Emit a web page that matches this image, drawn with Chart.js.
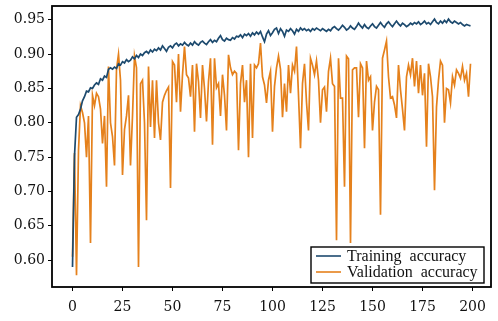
<!DOCTYPE html>
<html>
<head>
<meta charset="utf-8">
<script src="https://cdn.jsdelivr.net/npm/chart.js@4.4.1/dist/chart.umd.min.js"></script>
<style>
  html, body { margin: 0; padding: 0; background: #fff; }
  #wrap { width: 498px; height: 321px; }
</style>
</head>
<body>
<div id="wrap"><canvas id="acc-chart" width="498" height="321"></canvas></div>
<script>
// Accuracy per epoch
var trainAcc = [
  0.590, 0.752, 0.808, 0.812, 0.820, 0.832, 0.838, 0.846, 0.845, 0.851,
  0.850, 0.855, 0.858, 0.856, 0.864, 0.862, 0.868, 0.866, 0.878, 0.880,
  0.878, 0.881, 0.879, 0.886, 0.884, 0.889, 0.887, 0.892, 0.889, 0.891,
  0.896, 0.893, 0.898, 0.895, 0.900, 0.898, 0.902, 0.904, 0.901, 0.906,
  0.903, 0.907, 0.905, 0.909, 0.906, 0.912, 0.908, 0.904, 0.910, 0.912,
  0.909, 0.914, 0.916, 0.912, 0.915, 0.913, 0.917, 0.914, 0.912, 0.916,
  0.913, 0.918, 0.915, 0.913, 0.917, 0.919, 0.916, 0.914, 0.918, 0.921,
  0.917, 0.920, 0.918, 0.923, 0.927, 0.921, 0.919, 0.923, 0.921, 0.920,
  0.924, 0.922, 0.926, 0.925, 0.928, 0.924, 0.929, 0.927, 0.930, 0.926,
  0.931, 0.928, 0.932, 0.929, 0.933, 0.925, 0.918, 0.929, 0.934, 0.927,
  0.931, 0.936, 0.938, 0.930, 0.937, 0.933, 0.926, 0.935, 0.933, 0.937,
  0.934, 0.929, 0.936, 0.933, 0.938, 0.935, 0.937, 0.934, 0.936, 0.933,
  0.937, 0.935, 0.938, 0.936, 0.934, 0.937, 0.935, 0.933, 0.936, 0.934,
  0.938, 0.940, 0.937, 0.935, 0.938, 0.942, 0.939, 0.935, 0.937, 0.941,
  0.938, 0.936, 0.940, 0.945, 0.941, 0.938, 0.943, 0.939, 0.937, 0.941,
  0.944, 0.940, 0.938, 0.942, 0.946, 0.942, 0.939, 0.944, 0.947, 0.943,
  0.940, 0.944, 0.948, 0.944, 0.941, 0.945, 0.943, 0.940, 0.942, 0.945,
  0.943, 0.946, 0.944, 0.947, 0.943, 0.945, 0.948, 0.944, 0.946, 0.943,
  0.947, 0.951, 0.946, 0.944, 0.948, 0.945, 0.949, 0.946, 0.951, 0.947,
  0.945, 0.948, 0.946, 0.944, 0.946, 0.943, 0.941, 0.943, 0.942, 0.941
];
var valAcc = [
  0.605, 0.756, 0.578, 0.760, 0.825, 0.815, 0.800, 0.750, 0.810, 0.625,
  0.840, 0.825, 0.843, 0.838, 0.820, 0.770, 0.810, 0.707, 0.882, 0.800,
  0.780, 0.738, 0.878, 0.900, 0.862, 0.724, 0.790, 0.810, 0.840, 0.738,
  0.810, 0.897, 0.880, 0.590, 0.857, 0.862, 0.800, 0.658, 0.882, 0.794,
  0.862, 0.778, 0.862, 0.800, 0.775, 0.830, 0.840, 0.847, 0.852, 0.705,
  0.889, 0.884, 0.830, 0.900, 0.816, 0.870, 0.911, 0.870, 0.865, 0.838,
  0.884, 0.787, 0.886, 0.860, 0.807, 0.884, 0.850, 0.802, 0.860, 0.894,
  0.768, 0.894, 0.851, 0.857, 0.810, 0.870, 0.840, 0.789, 0.899, 0.880,
  0.870, 0.875, 0.872, 0.760, 0.857, 0.884, 0.830, 0.862, 0.750, 0.886,
  0.778, 0.884, 0.880, 0.886, 0.916, 0.867, 0.855, 0.829, 0.862, 0.875,
  0.787, 0.853, 0.880, 0.897, 0.878, 0.808, 0.857, 0.816, 0.884, 0.843,
  0.884, 0.875, 0.911, 0.840, 0.763, 0.857, 0.886, 0.830, 0.789, 0.894,
  0.884, 0.870, 0.890, 0.862, 0.800, 0.848, 0.852, 0.816, 0.875, 0.894,
  0.857, 0.853, 0.629, 0.894, 0.836, 0.836, 0.707, 0.897, 0.893, 0.625,
  0.877, 0.880, 0.880, 0.808, 0.886, 0.880, 0.763, 0.890, 0.862, 0.867,
  0.789, 0.830, 0.853, 0.848, 0.666, 0.894, 0.906, 0.919, 0.867, 0.836,
  0.838, 0.826, 0.807, 0.884, 0.848, 0.820, 0.789, 0.867, 0.884, 0.870,
  0.894, 0.853, 0.890, 0.843, 0.884, 0.840, 0.872, 0.765, 0.886, 0.867,
  0.838, 0.702, 0.823, 0.862, 0.890, 0.884, 0.800, 0.850, 0.848, 0.829,
  0.867, 0.855, 0.877, 0.872, 0.865, 0.882, 0.862, 0.872, 0.838, 0.886
];
var xTicks = [0, 25, 50, 75, 100, 125, 150, 175, 200];
var yTicks = [0.60, 0.65, 0.70, 0.75, 0.80, 0.85, 0.90, 0.95];
var seriesNames = ["Training  accuracy", "Validation  accuracy"];
var seriesColors = ["#1d4a6e", "#e5811c"];

var TICK_FONT = "'DejaVu Serif', 'Liberation Serif', serif";
var LEGEND_FONT = "'Liberation Serif', 'DejaVu Serif', serif";

function toPoints(arr) {
    return arr.map(function (v, i) { return { x: i, y: v }; });
}

// black frame around the plot plus the legend box in the lower right
var framePlugin = {
    id: 'frameAndLegend',
    afterDatasetsDraw: function (chart) {
        var ctx = chart.ctx;
        var a = chart.chartArea;
        ctx.save();
        ctx.strokeStyle = '#000';
        ctx.lineWidth = 1.8;
        ctx.strokeRect(a.left, a.top, a.right - a.left, a.bottom - a.top);

        var bx = a.right - 180, by = a.bottom - 40, bw = 173, bh = 36;
        ctx.fillStyle = '#fff';
        ctx.fillRect(bx, by, bw, bh);
        ctx.lineWidth = 1.4;
        ctx.strokeRect(bx, by, bw, bh);

        ctx.font = "16px " + LEGEND_FONT;
        ctx.textBaseline = 'middle';
        seriesNames.forEach(function (name, i) {
            var ly = by + 9 + i * 16;
            ctx.strokeStyle = seriesColors[i];
            ctx.lineWidth = 1.6;
            ctx.beginPath();
            ctx.moveTo(bx + 5, ly);
            ctx.lineTo(bx + 30, ly);
            ctx.stroke();
            ctx.fillStyle = '#111';
            ctx.fillText(name, bx + 36, ly + 1);
        });
        ctx.restore();
    }
};

new Chart(document.getElementById("acc-chart"), {
    type: 'line',
    data: {
        datasets: [
            {
                label: seriesNames[0],
                data: toPoints(trainAcc),
                borderColor: seriesColors[0],
                borderWidth: 1.7,
                pointRadius: 0,
                tension: 0,
                fill: false
            },
            {
                label: seriesNames[1],
                data: toPoints(valAcc),
                borderColor: seriesColors[1],
                borderWidth: 1.7,
                pointRadius: 0,
                tension: 0,
                fill: false
            }
        ]
    },
    options: {
        responsive: false,
        animation: false,
        devicePixelRatio: 1,
        layout: { padding: { left: 0, right: 7, top: 6, bottom: 0 } },
        plugins: {
            legend: { display: false },
            tooltip: { enabled: false }
        },
        scales: {
            x: {
                type: 'linear',
                min: -10.25,
                max: 209.25,
                afterBuildTicks: function (scale) {
                    scale.ticks = xTicks.map(function (v) { return { value: v }; });
                },
                afterFit: function (scale) {
                    scale.height = 34;
                    scale.paddingLeft = 0;
                    scale.paddingRight = 0;
                },
                grid: { drawOnChartArea: false, drawTicks: true, tickLength: 4, color: '#000', lineWidth: 1 },
                border: { display: false },
                ticks: {
                    color: '#111',
                    padding: 8,
                    maxRotation: 0,
                    font: { family: TICK_FONT, size: 14 }
                }
            },
            y: {
                type: 'linear',
                min: 0.561,
                max: 0.970,
                afterBuildTicks: function (scale) {
                    scale.ticks = yTicks.map(function (v) { return { value: v }; });
                },
                afterFit: function (scale) {
                    scale.width = 52;
                    scale.paddingTop = 0;
                    scale.paddingBottom = 0;
                },
                grid: { drawOnChartArea: false, drawTicks: true, tickLength: 4, color: '#000', lineWidth: 1 },
                border: { display: false },
                ticks: {
                    color: '#111',
                    padding: 3,
                    font: { family: TICK_FONT, size: 14 },
                    callback: function (v) { return v.toFixed(2); }
                }
            }
        }
    },
    plugins: [framePlugin]
});
</script>
</body>
</html>
